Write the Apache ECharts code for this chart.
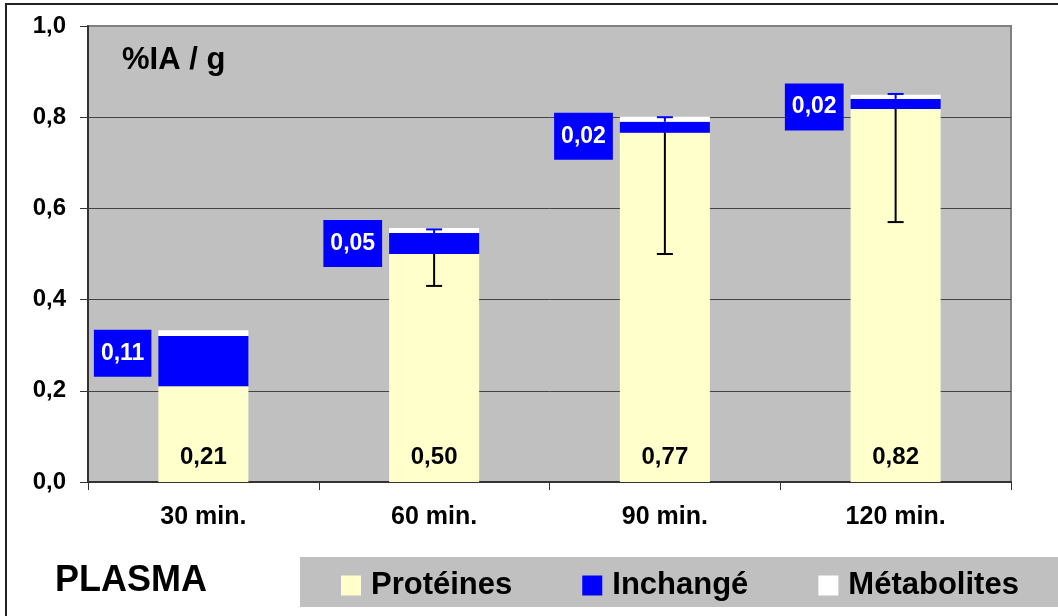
<!DOCTYPE html>
<html>
<head>
<meta charset="utf-8">
<script src="https://cdn.jsdelivr.net/npm/echarts@6/dist/echarts.min.js"></script>
<style>html,body{margin:0;padding:0;background:#fff}#c{width:1058px;height:616px}</style>
</head>
<body>
<div id="c"></div>
<script>
var categories = ['30 min.', '60 min.', '90 min.', '120 min.'];
var proteines = [0.21, 0.50, 0.766, 0.818];
var inchange = [0.11, 0.046, 0.024, 0.022];
var metabolites = [0.013, 0.011, 0.011, 0.009];
var errLow = [null, 0.43, 0.50, 0.57];
var errHigh = [null, 0.554, 0.80, 0.851];
var yTicks = ['0,0', '0,2', '0,4', '0,6', '0,8', '1,0'];

var FONT = "'Liberation Sans', Arial, sans-serif";
function fmt(v) { return v.toFixed(2).replace('.', ','); }
var labelShift = [-8, 0, 9, 3];

var chart = echarts.init(document.getElementById('c'), null, {renderer: 'canvas'});

function errItem(params, api, color) {
  var i = api.value(0);
  var from = api.value(1), to = api.value(2);
  if (to == null || isNaN(to)) return null;
  var p0 = api.coord([i, from]);
  var p1 = api.coord([i, to]);
  var hw = 8;
  var style = {stroke: color, lineWidth: 2};
  return {
    type: 'group',
    children: [
      {type: 'line', shape: {x1: p0[0], y1: p0[1], x2: p1[0], y2: p1[1]}, style: style},
      {type: 'line', shape: {x1: p1[0] - hw, y1: p1[1], x2: p1[0] + hw, y2: p1[1]}, style: style}
    ]
  };
}

var lowData = categories.map(function (c, i) { return [i, proteines[i], errLow[i]]; });
var highData = categories.map(function (c, i) { return [i, proteines[i] + inchange[i], errHigh[i]]; });

var option = {
  animation: false,
  textStyle: {fontFamily: FONT},
  grid: {left: 88, right: 47, top: 26, bottom: 134, show: true, backgroundColor: '#c0c0c0', borderColor: '#808080', borderWidth: 2},
  xAxis: {
    type: 'category',
    data: categories,
    axisLine: {lineStyle: {color: '#333', width: 2}},
    axisTick: {show: true, length: 8, lineStyle: {color: '#333', width: 1}},
    axisLabel: {color: '#000', fontWeight: 'bold', fontSize: 25, fontFamily: FONT, margin: 23}
  },
  yAxis: {
    type: 'value',
    min: 0, max: 1, interval: 0.2,
    axisLine: {show: true, lineStyle: {color: '#333', width: 2}},
    axisTick: {show: true, length: 8, lineStyle: {color: '#333', width: 1}},
    splitLine: {show: true, showMaxLine: false, lineStyle: {color: '#444', width: 1}},
    axisLabel: {color: '#000', fontWeight: 'bold', fontSize: 24, fontFamily: FONT, margin: 22,
      formatter: function (v) { return yTicks[Math.round(v / 0.2)]; }}
  },
  legend: {
    data: ['Protéines', 'Inchangé', 'Métabolites'],
    left: 336, top: 565,
    itemWidth: 20, itemHeight: 20, itemGap: 70,
    icon: 'rect',
    textStyle: {color: '#000', fontWeight: 'bold', fontSize: 31, fontFamily: FONT, padding: [0, 0, 0, 5]}
  },
  graphic: [
    {type: 'rect', z: -10, silent: true, shape: {x: 6, y: 4, width: 1200, height: 800}, style: {fill: 'none', stroke: '#222', lineWidth: 2}},
    {type: 'rect', z: -5, silent: true, shape: {x: 300, y: 557, width: 800, height: 50}, style: {fill: '#c0c0c0'}},
    {type: 'text', z: 10, left: 55, top: 563, style: {text: 'PLASMA', font: 'bold 36px ' + FONT, fill: '#000'}},
    {type: 'text', z: 10, left: 122, top: 45, style: {text: '%IA / g', font: 'bold 31px ' + FONT, fill: '#000'}}
  ],
  series: [
    {
      name: 'Protéines', type: 'bar', stack: 'tot', barWidth: 90,
      itemStyle: {color: '#ffffcc'},
      data: proteines,
      label: {show: true, position: 'insideBottom', distance: 13, color: '#000', fontWeight: 'bold', fontSize: 24, fontFamily: FONT,
        formatter: function (p) { return fmt(p.value); }}
    },
    {
      name: 'Inchangé', type: 'bar', stack: 'tot', barWidth: 90,
      itemStyle: {color: '#0000ff'},
      data: inchange.map(function (v, i) {
        return {value: v, label: {offset: [0, labelShift[i]]}};
      }),
      label: {show: true, position: 'left', distance: 7, color: '#fff', fontWeight: 'bold', fontSize: 23, fontFamily: FONT,
        lineHeight: 23, backgroundColor: '#0000ff', padding: [12, 7, 12, 7],
        formatter: function (p) { return fmt(p.value); }}
    },
    {
      name: 'Métabolites', type: 'bar', stack: 'tot', barWidth: 90,
      itemStyle: {color: '#ffffff'},
      data: metabolites
    },
    {
      name: 'errLow', type: 'custom', z: 5,
      renderItem: function (params, api) { return errItem(params, api, '#000'); },
      encode: {x: 0, y: [1, 2]},
      data: lowData
    },
    {
      name: 'errHigh', type: 'custom', z: 5,
      renderItem: function (params, api) { return errItem(params, api, '#0000ff'); },
      encode: {x: 0, y: [1, 2]},
      data: highData
    }
  ]
};
chart.setOption(option);
</script>
</body>
</html>
